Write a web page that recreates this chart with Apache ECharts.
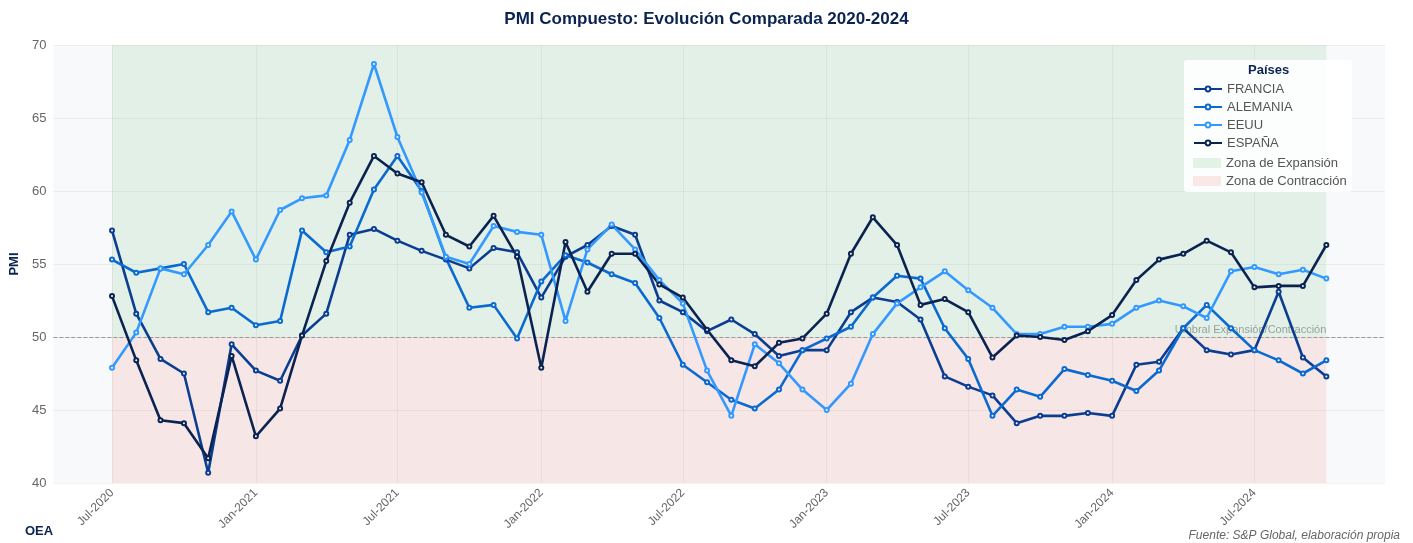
<!DOCTYPE html>
<html>
<head>
<meta charset="utf-8">
<title>PMI Compuesto</title>
<script src="https://cdn.jsdelivr.net/npm/echarts@6/dist/echarts.min.js"></script>
<style>
  html, body { margin: 0; padding: 0; background: #fff; }
  #chart { width: 1413px; height: 543px; }
</style>
</head>
<body>
<div id="chart"></div>
<script>
// months Jul-2020 .. Oct-2024
var months = [
  '2020-07-01', '2020-08-01', '2020-09-01', '2020-10-01', '2020-11-01', '2020-12-01',
  '2021-01-01', '2021-02-01', '2021-03-01', '2021-04-01', '2021-05-01', '2021-06-01',
  '2021-07-01', '2021-08-01', '2021-09-01', '2021-10-01', '2021-11-01', '2021-12-01',
  '2022-01-01', '2022-02-01', '2022-03-01', '2022-04-01', '2022-05-01', '2022-06-01',
  '2022-07-01', '2022-08-01', '2022-09-01', '2022-10-01', '2022-11-01', '2022-12-01',
  '2023-01-01', '2023-02-01', '2023-03-01', '2023-04-01', '2023-05-01', '2023-06-01',
  '2023-07-01', '2023-08-01', '2023-09-01', '2023-10-01', '2023-11-01', '2023-12-01',
  '2024-01-01', '2024-02-01', '2024-03-01', '2024-04-01', '2024-05-01', '2024-06-01',
  '2024-07-01', '2024-08-01', '2024-09-01', '2024-10-01'
]

var francia = [
  57.3, 51.6, 48.5, 47.5, 40.7, 49.5, 47.7, 47.0, 50.1, 51.6, 57.0, 57.4,
  56.6, 55.9, 55.3, 54.7, 56.1, 55.8, 52.7, 55.5, 56.3, 57.6, 57.0, 52.5,
  51.7, 50.4, 51.2, 50.2, 48.7, 49.1, 49.1, 51.7, 52.7, 52.4, 51.2, 47.3,
  46.6, 46.0, 44.1, 44.6, 44.6, 44.8, 44.6, 48.1, 48.3, 50.6, 49.1, 48.8,
  49.1, 53.1, 48.6, 47.3
]
var alemania = [
  55.3, 54.4, 54.7, 55.0, 51.7, 52.0, 50.8, 51.1, 57.3, 55.8, 56.2, 60.1,
  62.4, 60.0, 55.4, 52.0, 52.2, 49.9, 53.8, 55.6, 55.1, 54.3, 53.7, 51.3,
  48.1, 46.9, 45.7, 45.1, 46.4, 49.1, 49.9, 50.7, 52.7, 54.2, 54.0, 50.6,
  48.5, 44.6, 46.4, 45.9, 47.8, 47.4, 47.0, 46.3, 47.7, 50.6, 52.2, 50.6,
  49.1, 48.4, 47.5, 48.4
]
var eeuu = [
  47.9, 50.3, 54.7, 54.3, 56.3, 58.6, 55.3, 58.7, 59.5, 59.7, 63.5, 68.7,
  63.7, 59.9, 55.5, 55.0, 57.6, 57.2, 57.0, 51.1, 56.0, 57.7, 56.0, 53.9,
  52.3, 47.7, 44.6, 49.5, 48.2, 46.4, 45.0, 46.8, 50.2, 52.3, 53.4, 54.5,
  53.2, 52.0, 50.2, 50.2, 50.7, 50.7, 50.9, 52.0, 52.5, 52.1, 51.3, 54.5,
  54.8, 54.3, 54.6, 54.0
]
var espana = [
  52.8, 48.4, 44.3, 44.1, 41.7, 48.7, 43.2, 45.1, 50.1, 55.2, 59.2, 62.4,
  61.2, 60.6, 57.0, 56.2, 58.3, 55.5, 47.9, 56.5, 53.1, 55.7, 55.7, 53.6,
  52.7, 50.5, 48.4, 48.0, 49.6, 49.9, 51.6, 55.7, 58.2, 56.3, 52.2, 52.6,
  51.7, 48.6, 50.1, 50.0, 49.8, 50.4, 51.5, 53.9, 55.3, 55.7, 56.6, 55.8,
  53.4, 53.5, 53.5, 56.3
]

var tickDates = ['2020-07-01', '2021-01-01', '2021-07-01', '2022-01-01', '2022-07-01',
  '2023-01-01', '2023-07-01', '2024-01-01', '2024-07-01']
var monthNames = ['Jan', 'Feb', 'Mar', 'Apr', 'May', 'Jun', 'Jul', 'Aug', 'Sep', 'Oct', 'Nov', 'Dec']

var xMin = '2020-04-17'
var xMax = '2024-12-15'
var threshold = 50

var colors = {
  FRANCIA: '#0b3d91',
  ALEMANIA: '#0a6ad0',
  EEUU: '#3399ff',
  'ESPAÑA': '#0a2351'
}
var greenZone = 'rgba(40,167,69,0.1)'
var redZone = 'rgba(231,76,60,0.1)'
var navy = '#0a2351'
var fontFamily = '"Liberation Sans", Arial, sans-serif'

// date string -> timestamp (local midnight)
function ts(s) {
  var p = s.split('-')
  return new Date(+p[0], +p[1] - 1, +p[2]).getTime()
}

function pairs(vals) {
  return vals.map(function (v, i) { return [ts(months[i]), v] })
}

function lineSeries(name, vals) {
  return {
    name: name,
    type: 'line',
    data: pairs(vals),
    symbol: 'emptyCircle',
    symbolSize: 4,
    lineStyle: { width: 2.6, color: colors[name] },
    itemStyle: { color: colors[name], borderWidth: 1.5 },
    z: 5
  }
}

var chart = echarts.init(document.getElementById('chart'))
var firstMonth = ts(months[0])
var lastMonth = ts(months[months.length - 1])
var tickValues = tickDates.map(ts)

chart.setOption({
  animation: false,
  textStyle: { fontFamily: fontFamily },
  title: {
    text: 'PMI Compuesto: Evolución Comparada 2020-2024',
    left: 'center',
    top: 6,
    textStyle: { fontSize: 17, fontWeight: 'bold', color: navy, fontFamily: fontFamily }
  },
  grid: {
    left: 52,
    right: 28,
    top: 45,
    bottom: 60,
    show: true,
    backgroundColor: '#f8f9fa',
    borderWidth: 0
  },
  legend: [
    {
      orient: 'vertical',
      left: 1188,
      top: 77,
      itemWidth: 28,
      itemHeight: 6,
      itemGap: 4,
      textStyle: { fontSize: 13, color: '#555', fontFamily: fontFamily, lineHeight: 14 },
      data: ['FRANCIA', 'ALEMANIA', 'EEUU', 'ESPAÑA']
    },
    {
      orient: 'vertical',
      left: 1188,
      top: 151,
      itemWidth: 28,
      itemHeight: 10,
      itemGap: 4,
      textStyle: { fontSize: 13, color: '#555', fontFamily: fontFamily, lineHeight: 14 },
      data: [
        { name: 'Zona de Expansión', icon: 'rect', itemStyle: { color: 'rgba(40,167,69,0.12)' } },
        { name: 'Zona de Contracción', icon: 'rect', itemStyle: { color: 'rgba(231,76,60,0.12)' } }
      ]
    }
  ],
  graphic: [
    {
      type: 'rect',
      z: 3,
      shape: { x: 1184, y: 60, width: 168, height: 132, r: 3 },
      style: { fill: 'rgba(255,255,255,0.9)' }
    },
    {
      type: 'text',
      z: 4,
      left: 1248,
      top: 64,
      style: { text: 'Países', fill: navy, font: 'bold 13px ' + fontFamily }
    },
    {
      type: 'text',
      left: 25,
      top: 525,
      style: { text: 'OEA', fill: navy, font: 'bold 13px ' + fontFamily }
    },
    {
      type: 'text',
      right: 13,
      top: 530,
      style: { text: 'Fuente: S&P Global, elaboración propia', fill: '#666', font: 'italic 12px ' + fontFamily }
    }
  ],
  xAxis: {
    type: 'value',
    min: ts(xMin),
    max: ts(xMax),
    axisLine: { show: false },
    axisTick: { show: false, customValues: tickValues },
    axisLabel: {
      customValues: tickValues,
      rotate: 45,
      fontSize: 12,
      color: '#666',
      margin: 8,
      formatter: function (v) {
        var d = new Date(v)
        return monthNames[d.getMonth()] + '-' + d.getFullYear()
      }
    },
    splitLine: { show: true, lineStyle: { color: 'rgba(0,0,0,0.05)', width: 1 } }
  },
  yAxis: {
    type: 'value',
    min: 40,
    max: 70,
    interval: 5,
    name: 'PMI',
    nameLocation: 'middle',
    nameGap: 31,
    nameTextStyle: { fontSize: 13, fontWeight: 'bold', color: navy },
    axisLine: { show: false },
    axisTick: { show: false },
    axisLabel: { fontSize: 13, color: '#666', margin: 7 },
    splitLine: { lineStyle: { color: 'rgba(0,0,0,0.05)', width: 1 } }
  },
  series: [
    {
      name: 'Zona de Expansión',
      type: 'line',
      data: [],
      z: 1,
      itemStyle: { color: greenZone },
      markArea: {
        silent: true,
        itemStyle: { color: greenZone },
        data: [[{ coord: [firstMonth, threshold] }, { coord: [lastMonth, 70] }]]
      }
    },
    {
      name: 'Zona de Contracción',
      type: 'line',
      data: [],
      z: 1,
      itemStyle: { color: redZone },
      markArea: {
        silent: true,
        itemStyle: { color: redZone },
        data: [[{ coord: [firstMonth, 40] }, { coord: [lastMonth, threshold] }]]
      },
      markLine: {
        silent: true,
        symbol: 'none',
        lineStyle: { color: '#999', type: 'dashed', width: 1 },
        label: { show: false },
        data: [{ yAxis: threshold }]
      },
      markPoint: {
        silent: true,
        symbol: 'circle',
        symbolSize: 0,
        label: {
          show: true,
          position: 'left',
          offset: [0, -7],
          distance: 0,
          fontSize: 11,
          color: 'rgba(0,0,0,0.35)',
          formatter: 'Umbral Expansión/Contracción'
        },
        data: [{ coord: [lastMonth, threshold] }]
      }
    },
    lineSeries('FRANCIA', francia),
    lineSeries('ALEMANIA', alemania),
    lineSeries('EEUU', eeuu),
    lineSeries('ESPAÑA', espana)
  ]
})
</script>
</body>
</html>
